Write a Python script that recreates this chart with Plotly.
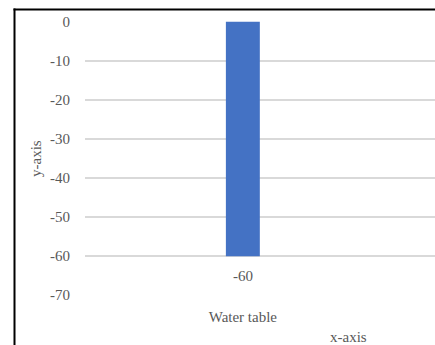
import plotly.graph_objects as go

categories = ["Water table"]
values = [-60]
y_ticks = [0, -10, -20, -30, -40, -50, -60, -70]
y_tick_text = ["0", "-10", "-20", "-30", "-40", "-50", "-60", "-70"]

L, T, R, B = 85, 21, 0, 49
W, H = 435, 345
pw, ph = W - L - R, H - T - B

def px_x(px):
    return (px - L) / pw

def px_y(py):
    return (H - B - py) / ph

font_family = "Liberation Serif, Times New Roman, serif"
grey = "#595959"
fs = 15

fig = go.Figure(go.Bar(
    x=list(range(len(categories))), y=values, width=0.097,
    marker=dict(color="#4472C4", line=dict(width=0)),
    hoverinfo="skip",
))

for i, v in enumerate(values):
    fig.add_annotation(x=i, y=v, text=str(v).replace("\u2212", "-"), showarrow=False,
                       yshift=-20, xanchor="center", yanchor="middle",
                       font=dict(family=font_family, size=fs, color=grey))

fig.update_layout(
    width=W, height=H,
    margin=dict(l=L, r=R, t=T, b=B),
    paper_bgcolor="white", plot_bgcolor="white",
    showlegend=False,
    font=dict(family=font_family, size=fs, color=grey),
    xaxis=dict(range=[-0.451, 0.549], tickvals=list(range(len(categories))), ticktext=categories,
               showgrid=False, zeroline=False, showline=False,
               tickfont=dict(family=font_family, size=fs, color=grey),
               ticks="outside", ticklen=7, tickcolor="rgba(0,0,0,0)"),
    yaxis=dict(range=[-70.2, 0.2], tickvals=y_ticks, ticktext=y_tick_text,
               showgrid=True, gridcolor="#d9d9d9", gridwidth=1.5,
               zeroline=False, showline=False,
               tickfont=dict(family=font_family, size=fs, color=grey),
               ticks="outside", ticklen=11, tickcolor="rgba(0,0,0,0)"),
)

fig.add_annotation(text="y-axis", xref="paper", yref="paper",
                   x=px_x(36), y=px_y(158), showarrow=False, textangle=-90,
                   xanchor="center", yanchor="middle",
                   font=dict(family=font_family, size=fs, color=grey))
fig.add_annotation(text="x-axis", xref="paper", yref="paper",
                   x=px_x(348), y=px_y(337), showarrow=False,
                   xanchor="center", yanchor="middle",
                   font=dict(family=font_family, size=fs, color=grey))

# frame (left and top edges)
fig.add_shape(type="line", xref="paper", yref="paper", layer="above",
              x0=px_x(14.5), x1=px_x(14.5), y0=px_y(8.5), y1=px_y(350),
              line=dict(color="black", width=2))
fig.add_shape(type="line", xref="paper", yref="paper", layer="above",
              x0=px_x(13.5), x1=1.0, y0=px_y(9.5), y1=px_y(9.5),
              line=dict(color="black", width=2))

fig.write_html("out.html", config={"displayModeBar": False},
               post_script="document.body.style.margin='0';document.body.style.overflow='hidden';")
